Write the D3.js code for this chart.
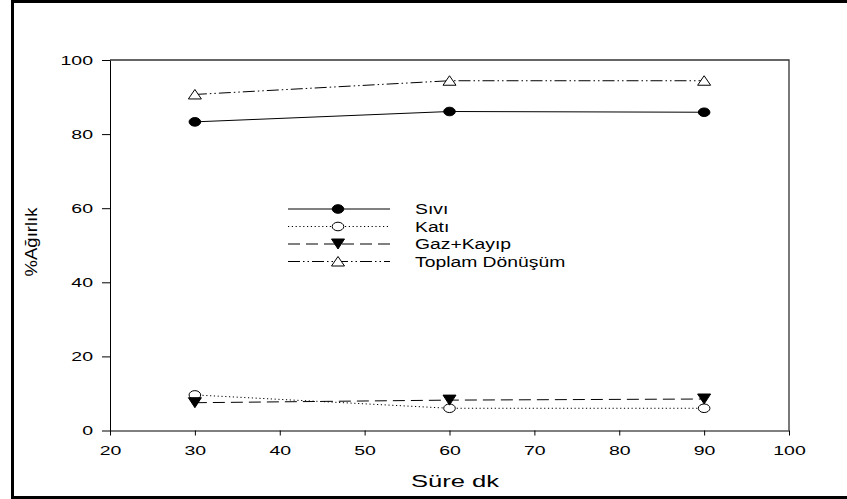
<!DOCTYPE html>
<html>
<head>
<meta charset="utf-8">
<script src="https://cdn.jsdelivr.net/npm/d3@7"></script>
<style>
  body { margin: 0; background: #fff; }
  svg { display: block; font-family: "Liberation Sans", Arial, sans-serif; }
</style>
</head>
<body>
<svg id="chart" width="847" height="499"></svg>
<script>
// Reaction time (min) and product distribution (% by weight)
const times = [30, 60, 90];
const sivi = [83.3, 86.1, 85.9];
const kati = [9.6, 6.0, 6.0];
const gazKayip = [7.5, 8.2, 8.5];
const toplam = [90.7, 94.4, 94.4];

const xTicks = [20, 30, 40, 50, 60, 70, 80, 90, 100];
const yTicks = [0, 20, 40, 60, 80, 100];

const seriesNames = ["Sıvı", "Katı", "Gaz+Kayıp", "Toplam Dönüşüm"];
const xTitle = "Süre dk";
const yTitle = "%Ağırlık";

const series = [
  { name: seriesNames[0], values: sivi, dash: null, marker: "circle", fill: "#000" },
  { name: seriesNames[1], values: kati, dash: "1.2,2.6", marker: "circle", fill: "#fff" },
  { name: seriesNames[2], values: gazKayip, dash: "12,6", marker: "down", fill: "#000" },
  { name: seriesNames[3], values: toplam, dash: "12,3,1.5,3,1.5,3", marker: "up", fill: "#fff" }
];

const svg = d3.select("#chart");
const SX = 1.5; // horizontal stretch of glyphs and markers

const x = d3.scaleLinear().domain([20, 100]).range([110, 789]);
const y = d3.scaleLinear().domain([0, 100]).range([430.5, 60]);

// outer frame
svg.append("path")
  .attr("d", "M850,1.5 H12.5 V497.5 H850")
  .attr("fill", "none").attr("stroke", "#000").attr("stroke-width", 3);

// plot frame (top and right)
svg.append("path")
  .attr("d", `M${x(20)},${y(100)} H${x(100)} V${y(0)}`)
  .attr("fill", "none").attr("stroke", "#333").attr("stroke-width", 1.3);

// y axis
const gy = svg.append("g").attr("transform", `translate(${x(20)},0)`)
  .call(d3.axisLeft(y).tickValues(yTicks).tickSize(8).tickSizeOuter(0).tickFormat(d3.format("d")));
gy.select(".domain").attr("stroke", "#000");
gy.selectAll(".tick line").attr("stroke", "#000");
gy.selectAll(".tick text")
  .attr("font-size", 13).attr("fill", "#000").attr("font-family", null)
  .attr("x", -17 / SX).attr("transform", `scale(${SX},1)`);

// x axis
const gx = svg.append("g").attr("transform", `translate(0,${y(0)})`)
  .call(d3.axisBottom(x).tickValues(xTicks).tickSize(5).tickSizeOuter(0).tickFormat(d3.format("d")));
gx.select(".domain").attr("stroke", "#000");
gx.selectAll(".tick line").attr("stroke", "#000");
gx.selectAll(".tick text")
  .attr("font-size", 13).attr("fill", "#000").attr("font-family", null)
  .attr("y", 15).attr("transform", `scale(${SX},1)`);

// axis titles
svg.append("text")
  .attr("transform", `translate(455,487) scale(1.6,1)`)
  .attr("text-anchor", "middle").attr("font-size", 16).text(xTitle);

svg.append("text")
  .attr("transform", `translate(37,242) rotate(-90) scale(1,0.85)`)
  .attr("text-anchor", "middle").attr("font-size", 18.5).text(yTitle);

// marker drawing
function drawMarker(g, type, fill) {
  if (type === "circle") {
    g.append("ellipse").attr("rx", 5.8).attr("ry", 4.3)
      .attr("fill", fill).attr("stroke", "#000").attr("stroke-width", 1);
  } else if (type === "down") {
    g.append("path").attr("d", "M-6.5,-5 L6.5,-5 L0,5 Z")
      .attr("fill", fill).attr("stroke", "#000").attr("stroke-width", 1);
  } else {
    g.append("path").attr("d", "M-6.5,4.5 L6.5,4.5 L0,-5 Z")
      .attr("fill", fill).attr("stroke", "#000").attr("stroke-width", 1);
  }
}

const line = d3.line().x(d => x(d[0])).y(d => y(d[1]));

series.forEach(s => {
  const pts = times.map((t, i) => [t, s.values[i]]);
  svg.append("path").datum(pts)
    .attr("d", line).attr("fill", "none").attr("stroke", "#000").attr("stroke-width", 1)
    .attr("stroke-dasharray", s.dash);
  pts.forEach(p => {
    const g = svg.append("g").attr("transform", `translate(${x(p[0])},${y(p[1])})`);
    drawMarker(g, s.marker, s.fill);
  });
});

// legend
const legendRows = [209, 226.5, 244, 261.5];
series.forEach((s, i) => {
  const ly = legendRows[i];
  svg.append("line").attr("x1", 288).attr("x2", 390).attr("y1", ly).attr("y2", ly)
    .attr("stroke", "#000").attr("stroke-width", 1).attr("stroke-dasharray", s.dash);
  const g = svg.append("g").attr("transform", `translate(338,${ly})`);
  drawMarker(g, s.marker, s.fill);
  svg.append("text")
    .attr("transform", `translate(415,${ly + 5}) scale(1.38,1)`)
    .attr("font-size", 14).text(s.name);
});
</script>
</body>
</html>
